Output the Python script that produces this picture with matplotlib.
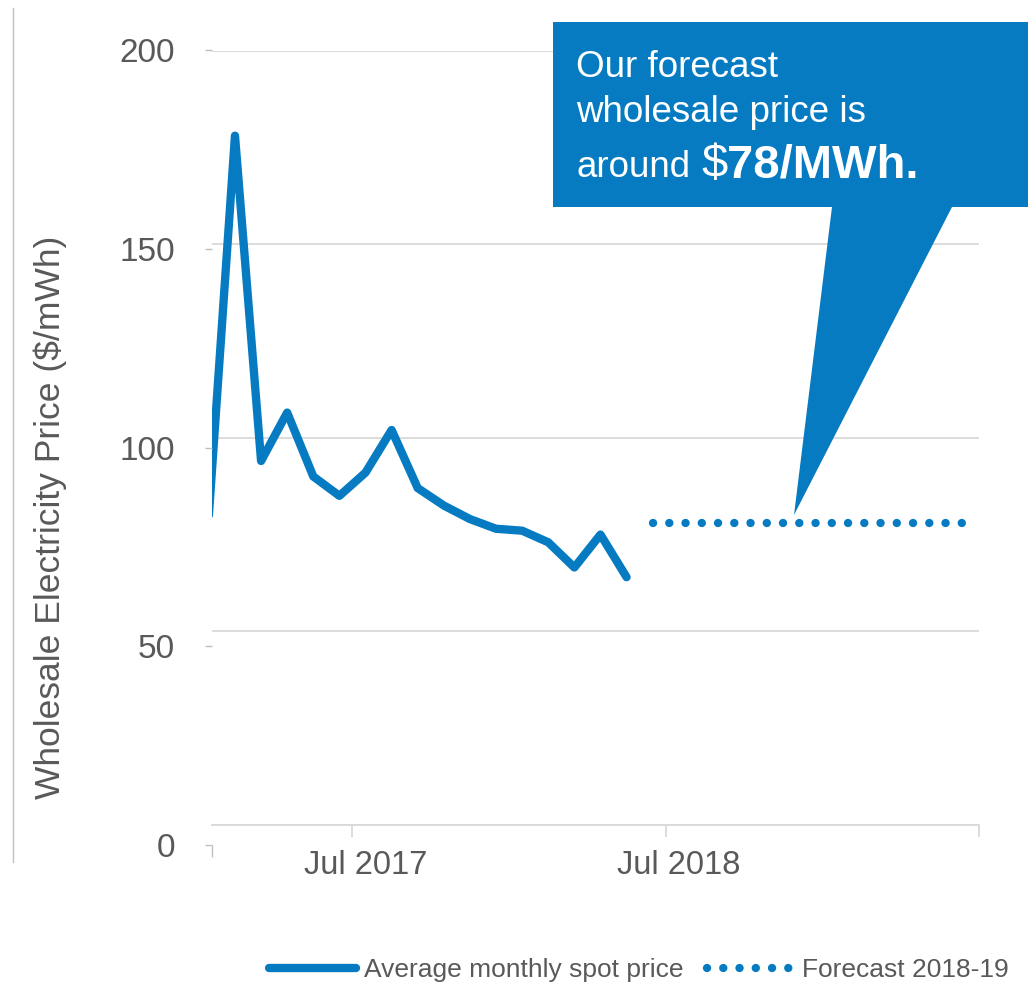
import numpy as np
import matplotlib.pyplot as plt
from matplotlib.patches import Polygon
from matplotlib.lines import Line2D

plt.rcParams['font.family'] = ['Liberation Sans', 'DejaVu Sans']

# monthly axis Jan 2017 .. Jun 2019
months = ['Jan 2017', 'Feb 2017', 'Mar 2017', 'Apr 2017', 'May 2017', 'Jun 2017',
          'Jul 2017', 'Aug 2017', 'Sep 2017', 'Oct 2017', 'Nov 2017', 'Dec 2017',
          'Jan 2018', 'Feb 2018', 'Mar 2018', 'Apr 2018', 'May 2018', 'Jun 2018',
          'Jul 2018', 'Aug 2018', 'Sep 2018', 'Oct 2018', 'Nov 2018', 'Dec 2018',
          'Jan 2019', 'Feb 2019', 'Mar 2019', 'Apr 2019', 'May 2019', 'Jun 2019']

# average monthly spot price, Jan 2017 - May 2018
spot = [80, 178, 94, 106.5, 90, 85, 91, 102, 87, 82.5, 79, 76.5, 76, 73, 66.5, 75, 64]

# forecast 2018-19
forecast_months = ['Jun 2018', 'Jun 2019']
forecast_price = 78

tick_labels = ['Jul 2017', 'Jul 2018']
yticks = [0, 50, 100, 150, 200]

blue = '#067BC2'
grey_text = '#595959'
grid_col = '#D9D9D9'

W, H = 1028, 985
fig = plt.figure(figsize=(W / 100, H / 100), dpi=100)

ax = fig.add_axes([212 / W, 1 - 825 / H, 767 / W, 774.5 / H])
x_spot = np.arange(len(spot))
x_fc = [months.index(m) for m in forecast_months]

l1, = ax.plot(x_spot, spot, color=blue, lw=6, solid_capstyle='round',
              solid_joinstyle='round')
l2, = ax.plot(x_fc, [forecast_price] * 2, color=blue, lw=6,
              linestyle=(0, (0.01, 1.94)), dash_capstyle='round')

ax.set_xlim(0.12, len(months) - 0.5)
ax.set_ylim(0, 200)
ax.set_yticks(yticks)
ax.yaxis.grid(True, color=grid_col, lw=1.3)
ax.tick_params(axis='y', length=0, labelleft=False)
for s in ['left', 'right', 'top']:
    ax.spines[s].set_visible(False)
ax.spines['bottom'].set_color(grid_col)
ax.spines['bottom'].set_linewidth(1.3)

# ticks on month boundaries, labels on month centres
ax.set_xticks([months.index(t) - 0.5 for t in tick_labels] + [len(months) - 0.5])
ax.set_xticklabels([])
ax.tick_params(axis='x', which='major', length=8.6, width=1.3, color=grid_col)
ax.set_xticks([months.index(t) for t in tick_labels], minor=True)
ax.set_xticklabels(tick_labels, minor=True)
ax.tick_params(axis='x', which='minor', length=0, pad=18, labelsize=23.5,
               labelcolor=grey_text)

# value axis (drawn slightly stretched against the gridlines)
lab = fig.add_axes([212 / W, 1 - 845 / H, 767 / W, 795 / H])
lab.patch.set_visible(False)
for s in lab.spines.values():
    s.set_visible(False)
lab.set_ylim(0, 200)
lab.set_yticks(yticks)
lab.tick_params(axis='y', length=5, width=1, color='#BFBFBF', pad=21.5,
                labelsize=24, labelcolor=grey_text)
lab.set_xlim(ax.get_xlim())
lab.set_xticks([ax.get_xlim()[0]])
lab.set_xticklabels([''])
lab.tick_params(axis='x', length=8.6, width=1, color='#BFBFBF')

fig.text(50 / W, 1 - 517 / H, 'Wholesale Electricity Price ($/mWh)', rotation=90,
         ha='center', va='center', fontsize=25.5, color=grey_text)

# chart border on the left
fig.add_artist(Line2D([13 / W, 13 / W], [1 - 8 / H, 1 - 862 / H],
                      transform=fig.transFigure, color='#BFBFBF', lw=1))

# callout box with pointer
pts = [(553, 22), (1032, 22), (1032, 207), (952, 207), (794, 515), (832, 207), (553, 207)]
fig.patches.append(Polygon([(px / W, 1 - py / H) for px, py in pts], closed=True,
                           transform=fig.transFigure, facecolor=blue, edgecolor='none'))

fig.text(576 / W, 1 - 77 / H, 'Our forecast', fontsize=26.5, color='white', va='baseline')
fig.text(576 / W, 1 - 122 / H, 'wholesale price is', fontsize=26.5, color='white',
         va='baseline')
r = fig.canvas.get_renderer()
t = fig.text(576 / W, 1 - 177 / H, 'around', fontsize=26.5, color='white', va='baseline')
x1 = t.get_window_extent(r).x1 + 11
t = fig.text(x1 / W, 1 - 177 / H, '$', fontsize=34, color='white', va='baseline')
x1 = t.get_window_extent(r).x1
fig.text(x1 / W, 1 - 177 / H, '78/MWh.', fontsize=34, fontweight='bold', color='white',
         va='baseline')

fig.legend([l1, l2], ['Average monthly spot price', 'Forecast 2018-19'], loc='center',
           bbox_to_anchor=(639 / W, 1 - 970 / H), ncol=2, frameon=False, fontsize=19,
           handlelength=3.3, handletextpad=0.3, columnspacing=0.9, borderpad=0,
           labelcolor=grey_text)

fig.savefig('out.png', dpi=100)
